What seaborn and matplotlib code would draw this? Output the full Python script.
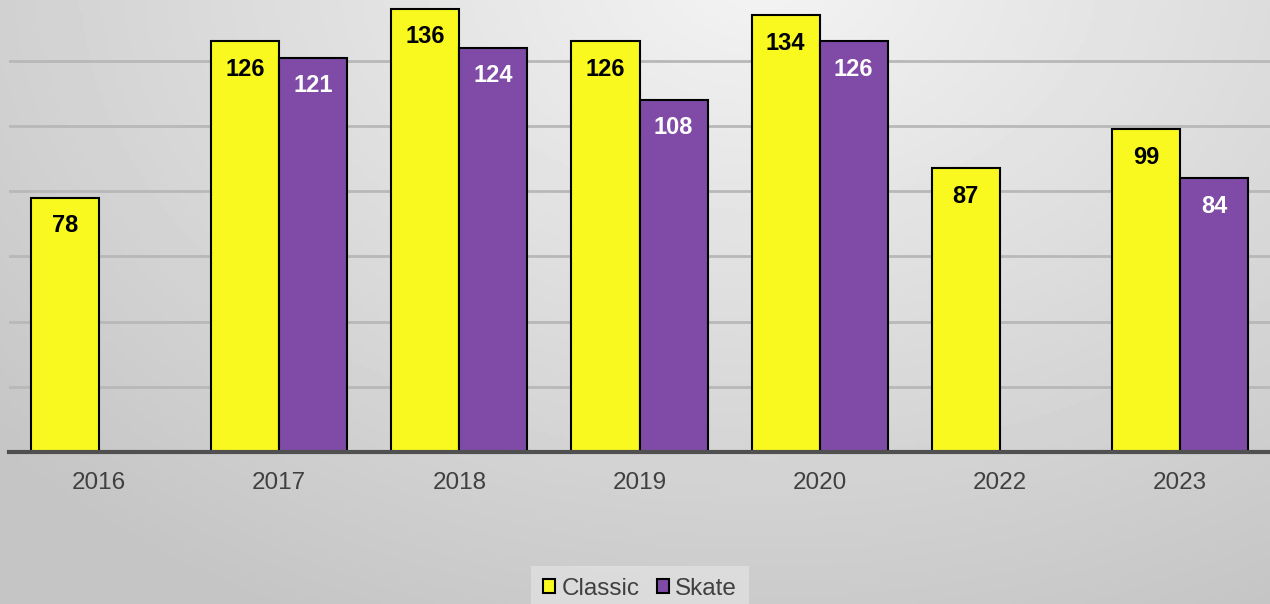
import numpy as np
import pandas as pd
import seaborn as sns
import matplotlib.pyplot as plt
from matplotlib.patches import Patch

# chart data
years = ['2016', '2017', '2018', '2019', '2020', '2022', '2023']
classic = [78, 126, 136, 126, 134, 87, 99]
skate = [np.nan, 121, 124, 108, 126, np.nan, 84]
series = ['Classic', 'Skate']

yellow = '#F9F91F'
purple = '#7F4BA7'

df = pd.DataFrame({
    'year': years * 2,
    'count': classic + skate,
    'style': ['Classic'] * len(years) + ['Skate'] * len(years),
})

sns.set_style('white')
plt.rcParams['font.family'] = ['Liberation Sans', 'DejaVu Sans']

fig = plt.figure(figsize=(12.7, 6.04), dpi=100)

# radial grey background
bg = fig.add_axes([0, 0, 1, 1], zorder=-10)
xx, yy = np.meshgrid(np.linspace(0, 1, 400), np.linspace(0, 1, 200))
dist = np.sqrt(((xx - 0.6) * 1.2) ** 2 + ((yy - 1.05) * 0.8) ** 2)
shade = np.clip(0.955 - 0.19 * dist, 0.77, 0.955)
bg.imshow(shade, cmap='gray', vmin=0, vmax=1, aspect='auto',
          extent=[0, 1, 0, 1], origin='lower')
bg.axis('off')

ax = fig.add_axes([9 / 1270, 152 / 604, 1261 / 1270, 452 / 604])
ax.set_facecolor('none')

sns.barplot(data=df, x='year', y='count', hue='style', hue_order=series,
            palette=[yellow, purple], width=0.756, gap=0, dodge=True,
            edgecolor='black', linewidth=1.5, saturation=1, ax=ax,
            legend=False, zorder=3, errorbar=None)

ax.set_ylim(0, 138.7)
ax.set_xlim(-0.5, len(years) - 0.5)
ax.set_yticks(range(20, 140, 20))
ax.yaxis.grid(True, color='#B8B8B8', linewidth=2, zorder=0)
ax.set_axisbelow(True)
ax.tick_params(axis='y', left=False, labelleft=False)
ax.tick_params(axis='x', bottom=False, labelsize=17.5, labelcolor='#404040', pad=11)
ax.set_xlabel('')
ax.set_ylabel('')
for side in ['top', 'right', 'left']:
    ax.spines[side].set_visible(False)
ax.spines['bottom'].set_color('#505050')
ax.spines['bottom'].set_linewidth(3)
ax.spines['bottom'].set_zorder(5)

# value labels inside the bar tops
for container, txt_color in zip(ax.containers, ['black', 'white']):
    for bar in container:
        h = bar.get_height()
        if np.isnan(h) or h == 0:
            continue
        ax.annotate(f'{h:.0f}', (bar.get_x() + bar.get_width() / 2, h),
                    xytext=(0, -20), textcoords='offset points',
                    ha='center', va='center', fontsize=17, fontweight='bold',
                    color=txt_color, zorder=6)

handles = [Patch(facecolor=yellow, edgecolor='black', linewidth=1.5),
           Patch(facecolor=purple, edgecolor='black', linewidth=1.5)]
leg = fig.legend(handles, series, loc='center', bbox_to_anchor=(640 / 1270, 15 / 604),
                 ncol=2, frameon=True, fontsize=17.5, handlelength=0.5,
                 handleheight=0.5, handletextpad=0.25, columnspacing=0.7,
                 borderpad=0.5, borderaxespad=0, fancybox=False)
leg.get_frame().set_facecolor('#E0E0E0')
leg.get_frame().set_edgecolor('none')
for t in leg.get_texts():
    t.set_color('#404040')

fig.savefig('out.png', dpi=100)
